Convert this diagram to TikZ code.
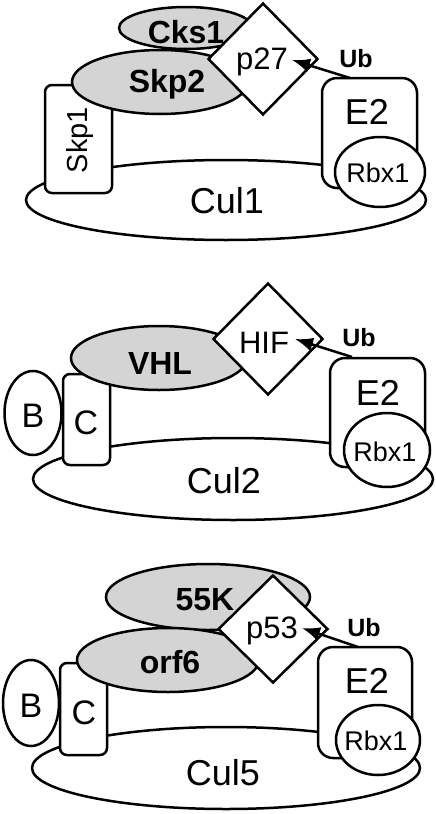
\documentclass[tikz,border=0pt]{standalone}
\usepackage{fontspec}
\setmainfont{Liberation Sans}
\usetikzlibrary{shapes.geometric,arrows.meta}
\newcommand\fsz[1]{\fontsize{#1}{#1}\selectfont}
\tikzset{
  lw/.style={line width=2.5pt},
  cul/.style={lw,draw,fill=white,ellipse,inner sep=0pt},
  grayell/.style={lw,draw,fill=black!17,ellipse,inner sep=0pt},
  whiteell/.style={lw,draw,fill=white,ellipse,inner sep=0pt},
  sbox/.style={lw,draw,fill=white,rectangle,rounded corners=7pt,inner sep=0pt},
  ebox/.style={lw,draw,fill=white,rectangle,rounded corners=15pt,inner sep=0pt},
  dia/.style={lw,draw,fill=white,diamond,inner sep=0pt},
  ubarrow/.style={line width=2.5pt,arrows={-Latex[length=18pt,width=14pt]}},
  txt/.style={inner sep=0pt},
}
\begin{document}
\begin{tikzpicture}[x=1pt,y=-1pt]
\useasboundingbox (0,0) rectangle (436,814);
% ---------- Panel 1 ----------
\node[cul,minimum width=400pt,minimum height=80pt] (cul1) at (226,200) {};
\node[txt] (cul1t) at (227,201) {\fsz{36}Cul1};
\node[sbox,minimum width=67pt,minimum height=108pt] (skp1) at (78.5,139) {};
\node[txt,rotate=90] (skp1t) at (80,140) {\fsz{29}Skp1};
\node[ebox,minimum width=95pt,minimum height=110pt] (e2a) at (369.5,133) {};
\node[txt] (e2at) at (367,112) {\fsz{36}E2};
\node[whiteell,minimum width=90pt,minimum height=70pt] (rbx1a) at (380,172) {};
\node[txt] (rbx1at) at (378,173) {\fsz{27}Rbx1};
\node[grayell,minimum width=134pt,minimum height=42pt] (cks1) at (186,28) {};
\node[txt] (cks1t) at (186,32) {\fsz{32}\bfseries Cks1};
\node[grayell,minimum width=176pt,minimum height=64pt] (skp2) at (160,82) {};
\node[txt] (skp2t) at (167,84) {\fsz{32}\bfseries Skp2};
\node[dia,minimum width=110pt,minimum height=112pt] (p27) at (263,59) {};
\node[txt] (p27t) at (262,62) {\fsz{31}p27};
\coordinate (ubsa) at (350,78);
\coordinate (ubta) at (292,60);
\draw[ubarrow] (ubsa) -- (ubta);
\node[txt] (uba) at (356,59) {\fsz{25}\bfseries Ub};
% ---------- Panel 2 ----------
\node[cul,minimum width=400pt,minimum height=82pt] (cul2) at (233,479) {};
\node[txt] (cul2t) at (224,481) {\fsz{36}Cul2};
\node[sbox,minimum width=47pt,minimum height=91pt] (c2) at (86.5,419.5) {};
\node[txt] (c2t) at (86,423) {\fsz{34}C};
\node[whiteell,minimum width=57pt,minimum height=84pt] (b2) at (33,413) {};
\node[txt] (b2t) at (33,416) {\fsz{34}B};
\node[ebox,minimum width=95pt,minimum height=109pt] (e2b) at (377.5,412.5) {};
\node[txt] (e2bt) at (378,393) {\fsz{36}E2};
\node[whiteell,minimum width=86pt,minimum height=74pt] (rbx1b) at (387,450) {};
\node[txt] (rbx1bt) at (385,452) {\fsz{27}Rbx1};
\node[grayell,minimum width=176pt,minimum height=64pt] (vhl) at (159,358) {};
\node[txt] (vhlt) at (160,363) {\fsz{32}\bfseries VHL};
\node[dia,minimum width=110pt,minimum height=112pt] (hif) at (268,339) {};
\node[txt] (hift) at (264,343) {\fsz{31}HIF};
\coordinate (ubsb) at (352,357);
\coordinate (ubtb) at (295,339);
\draw[ubarrow] (ubsb) -- (ubtb);
\node[txt] (ubb) at (359,338) {\fsz{25}\bfseries Ub};
% ---------- Panel 3 ----------
\node[cul,minimum width=388pt,minimum height=82pt] (cul5) at (226,768) {};
\node[txt] (cul5t) at (223,773) {\fsz{36}Cul5};
\node[sbox,minimum width=47pt,minimum height=92pt] (c3) at (83.5,709) {};
\node[txt] (c3t) at (84,713) {\fsz{34}C};
\node[whiteell,minimum width=56pt,minimum height=86pt] (b3) at (31,703) {};
\node[txt] (b3t) at (31,706) {\fsz{34}B};
\node[ebox,minimum width=94pt,minimum height=111pt] (e2c) at (365,702.5) {};
\node[txt] (e2ct) at (367,681) {\fsz{36}E2};
\node[whiteell,minimum width=84pt,minimum height=70pt] (rbx1c) at (378,740) {};
\node[txt] (rbx1ct) at (376,741) {\fsz{27}Rbx1};
\node[grayell,minimum width=204pt,minimum height=66pt] (k55) at (208,597) {};
\node[txt] (k55t) at (205,600) {\fsz{32}\bfseries 55K};
\node[grayell,minimum width=182pt,minimum height=64pt] (orf6) at (168,660) {};
\node[txt] (orf6t) at (170,662) {\fsz{32}\bfseries orf6};
\node[dia,minimum width=110pt,minimum height=108pt] (p53) at (273,629) {};
\node[txt] (p53t) at (272,631) {\fsz{31}p53};
\coordinate (ubsc) at (358,647);
\coordinate (ubtc) at (302,628);
\draw[ubarrow] (ubsc) -- (ubtc);
\node[txt] (ubc) at (364,628) {\fsz{25}\bfseries Ub};
\end{tikzpicture}
\end{document}
